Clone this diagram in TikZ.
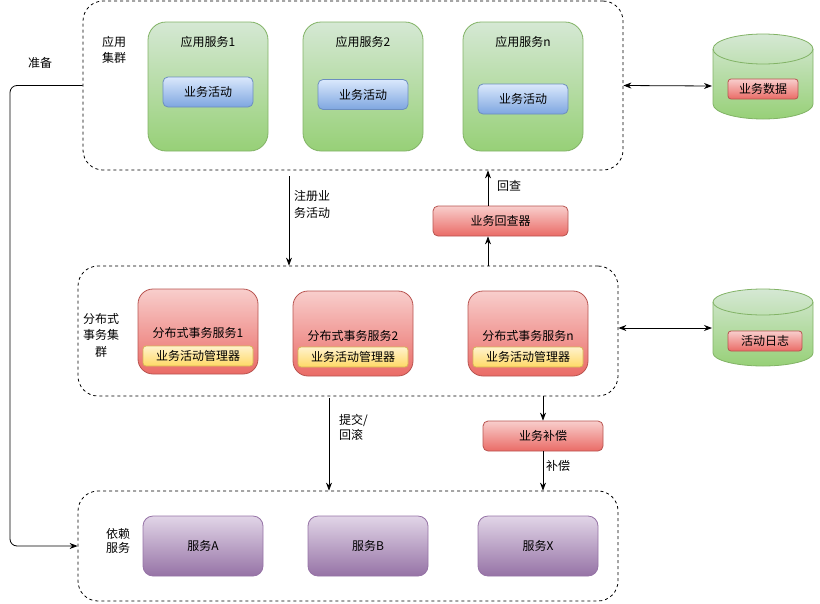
\documentclass[tikz,border=0pt]{standalone}
\usepackage{fontspec}
\setmainfont{Noto Sans CJK SC}
\usetikzlibrary{arrows.meta,calc}
\definecolor{gT}{HTML}{D5E8D4}\definecolor{gB}{HTML}{97D077}\definecolor{gD}{HTML}{82B366}
\definecolor{bT}{HTML}{DAE8FC}\definecolor{bB}{HTML}{7EA6E0}\definecolor{bD}{HTML}{6C8EBF}
\definecolor{rT}{HTML}{F8CECC}\definecolor{rB}{HTML}{EA6B66}\definecolor{rD}{HTML}{B85450}
\definecolor{yT}{HTML}{FFF2CC}\definecolor{yB}{HTML}{FFD966}\definecolor{yD}{HTML}{D6B656}
\definecolor{pT}{HTML}{E1D5E7}\definecolor{pB}{HTML}{9673A6}\definecolor{pD}{HTML}{9673A6}
\begin{document}
\begin{tikzpicture}[x=1pt,y=-1pt,font=\fontsize{12}{15}\selectfont,
  cluster/.style={draw, line width=0.8pt, dash pattern=on 3pt off 3pt, rounded corners=20pt, inner sep=0pt},
  greenbox/.style={draw=gD, line width=0.8pt, top color=gT, bottom color=gB, rounded corners=18pt, minimum width=120pt, minimum height=129pt, inner sep=0pt},
  bluebox/.style={draw=bD, line width=0.8pt, top color=bT, bottom color=bB, rounded corners=5pt, minimum width=90pt, minimum height=30pt, inner sep=0pt},
  redbox/.style={draw=rD, line width=0.8pt, top color=rT, bottom color=rB, rounded corners=5pt, minimum height=30pt, inner sep=0pt},
  redtag/.style={draw=rD, line width=0.8pt, top color=rT, bottom color=rB, rounded corners=3pt, minimum height=20pt, inner sep=0pt},
  dtbox/.style={draw=rD, line width=0.8pt, top color=rT, bottom color=rB, rounded corners=15pt, minimum width=120pt, minimum height=85pt, inner sep=0pt},
  yellowbox/.style={draw=yD, line width=0.8pt, top color=yT, bottom color=yB, rounded corners=3pt, minimum width=110pt, minimum height=20pt, inner sep=0pt},
  purplebox/.style={draw=pD, line width=0.8pt, top color=pT, bottom color=pB, rounded corners=10pt, minimum width=120pt, minimum height=60pt, inner sep=0pt},
  dbbody/.style={draw=gD, line width=0.8pt, top color=gT, bottom color=gB},
  arr/.style={line width=0.8pt, -{Stealth[length=8pt,width=6pt]}},
  darr/.style={line width=0.8pt, {Stealth[length=8pt,width=6pt]}-{Stealth[length=8pt,width=6pt]}},
  lbl/.style={inner sep=0pt, align=center}
]
\useasboundingbox (0,0) rectangle (820,603);

% clusters
\node[cluster, minimum width=540pt, minimum height=169pt] (topcl) at (353,85.5) {};
\node[cluster, minimum width=540pt, minimum height=130pt] (midcl) at (348,331) {};
\node[cluster, minimum width=540pt, minimum height=110pt] (botcl) at (348,546) {};

% top cluster
\node[lbl, font=\fontsize{12}{16}\selectfont] (lapp) at (114,50) {应用\\集群};
\node[greenbox] (as1) at (208,86.5) {};
\node[greenbox] (as2) at (363,86.5) {};
\node[greenbox] (asn) at (523,86.5) {};
\node[lbl] (t1) at (208,42) {应用服务1};
\node[lbl] (t2) at (363,42) {应用服务2};
\node[lbl] (tn) at (523,42) {应用服务n};
\node[bluebox] (b1) at (208,92) {业务活动};
\node[bluebox] (b2) at (363,94.5) {业务活动};
\node[bluebox] (bn) at (523,99) {业务活动};

% database 1
\path[dbbody] (713,49) -- (713,104) arc (180:360:50pt and 15pt) -- (813,49) arc (0:180:50pt and 15pt) -- cycle;
\draw[gD, line width=0.8pt] (713,49) arc (180:360:50pt and 15pt);
\node[redtag, minimum width=70pt] (data) at (763,89) {业务数据};
\coordinate (db1w) at (712,86);
\draw[darr] (topcl.east) -- (db1w);

% database 2
\path[dbbody] (713,302) -- (713,353) arc (180:360:50pt and 13pt) -- (813,302) arc (0:180:50pt and 13pt) -- cycle;
\draw[gD, line width=0.8pt] (713,302) arc (180:360:50pt and 13pt);
\node[redtag, minimum width=74pt] (log) at (765,341) {活动日志};
\coordinate (db2w) at (712,328);
\draw[darr] (midcl.east |- db2w) -- (db2w);

% middle cluster
\node[lbl, font=\fontsize{12}{16.5}\selectfont] (lmid) at (101,335) {分布式\\事务集\\群};
\node[dtbox] (dt1) at (198,331.5) {};
\node[dtbox] (dt2) at (353,333.5) {};
\node[dtbox] (dtn) at (528,333.5) {};
\node[lbl] (dtt1) at (198,333) {分布式事务服务1};
\node[lbl] (dtt2) at (353,336) {分布式事务服务2};
\node[lbl] (dttn) at (528,336) {分布式事务服务n};
\node[yellowbox] (y1) at (198,356) {业务活动管理器};
\node[yellowbox] (y2) at (353,357) {业务活动管理器};
\node[yellowbox] (yn) at (528,357) {业务活动管理器};

% bottom cluster
\node[lbl, font=\fontsize{12}{14}\selectfont] (ldep) at (118,541) {依赖\\服务};
\node[purplebox] (sa) at (203,546) {服务A};
\node[purplebox] (sb) at (368,546) {服务B};
\node[purplebox] (sx) at (538,546) {服务X};

% register
\coordinate (regx) at (289,0);
\draw[arr, shorten <=6pt] (topcl.south -| regx) -- (midcl.north -| regx);
\node[lbl, align=left, anchor=west, font=\fontsize{12}{17}\selectfont] (lreg) at (294,204.5) {注册业\\务活动};

% check back
\node[redbox, minimum width=135pt] (chk) at (500.5,221) {业务回查器};
\coordinate (chkx) at (488,0);
\draw[arr] (midcl.north -| chkx) -- (chk.south -| chkx);
\draw[arr] (chk.north -| chkx) -- (topcl.south -| chkx);
\node[lbl] (lchk) at (509,186) {回查};

% commit
\coordinate (cmx) at (329,0);
\draw[arr, shorten <=2pt] (midcl.south -| cmx) -- (botcl.north -| cmx);
\node[lbl, align=left, anchor=west, font=\fontsize{12}{15}\selectfont] (lcm) at (339,427) {提交/\\回滚};

% compensate
\node[redbox, minimum width=120pt] (comp) at (543,436) {业务补偿};
\draw[arr] (midcl.south -| comp) -- (comp.north);
\draw[arr] (comp.south) -- (botcl.north -| comp);
\node[lbl] (lcomp) at (558,466) {补偿};

% prepare
\node[lbl] (lprep) at (40,63) {准备};
\coordinate (px) at (10,0);
\draw[arr, rounded corners=7pt] (topcl.west) -- (topcl.west -| px) -- (botcl.west -| px) -- (botcl.west);
\end{tikzpicture}
\end{document}
